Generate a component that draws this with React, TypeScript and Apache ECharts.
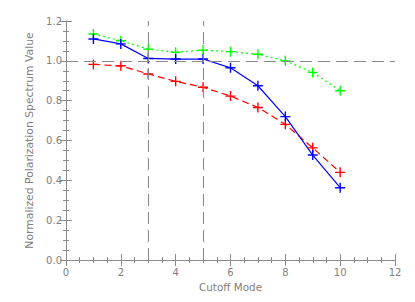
import React, { useEffect, useRef } from "react";
import * as echarts from "echarts";

const modes = [1, 2, 3, 4, 5, 6, 7, 8, 9, 10];
const blueValues = [1.11, 1.085, 1.012, 1.009, 1.009, 0.965, 0.875, 0.72, 0.527, 0.363];
const redValues = [0.982, 0.975, 0.934, 0.897, 0.867, 0.823, 0.766, 0.681, 0.563, 0.44];
const greenValues = [1.135, 1.101, 1.059, 1.043, 1.054, 1.046, 1.033, 1.0, 0.942, 0.85];
const refY = [1.0];
const refX = [3, 5];
const xTitle = "Cutoff Mode";
const yTitle = "Normalized Polarization Spectrum Value";

const PLUS = "path://M-0.7,-5H0.7V-0.7H5V0.7H0.7V5H-0.7V0.7H-5V-0.7H-0.7Z";
const AXIS = "#8a8a8a";
const FONT = "'DejaVu Sans', sans-serif";
const TXT = "#808080";

export default function App() {
  const ref = useRef<HTMLDivElement>(null);
  useEffect(() => {
    if (!ref.current) return;
    const chart = echarts.init(ref.current, undefined, { renderer: "svg" });
    const tickCommon = {
      axisLine: { show: true, lineStyle: { color: AXIS, width: 1 } },
      axisTick: { show: true, inside: true, length: 6, lineStyle: { color: AXIS } },
      minorTick: { show: true, splitNumber: 4, length: 3, lineStyle: { color: AXIS } },
      splitLine: { show: false },
      minorSplitLine: { show: false },
    };
    const mk = (vals: number[], color: string, type: any, name: string) => ({
      type: "line",
      name,
      data: modes.map((m, i) => [m, vals[i]]),
      symbol: PLUS,
      symbolSize: 10,
      showSymbol: true,
      lineStyle: { color, width: 1.2, type },
      itemStyle: { color },
      z: 3,
    });
    chart.setOption({
      animation: false,
      backgroundColor: "#ffffff",
      grid: { left: 66, right: 20, top: 21, bottom: 42, containLabel: false },
      xAxis: [
        {
          type: "value",
          position: "bottom",
          min: 0,
          max: 12,
          interval: 2,
          name: xTitle,
          nameLocation: "middle",
          nameGap: 22,
          nameTextStyle: { color: TXT, fontSize: 10.4, fontFamily: FONT },
          axisLabel: { color: TXT, fontSize: 10, fontFamily: FONT, margin: 7 },
          ...tickCommon,
        },
        {
          type: "value",
          position: "top",
          min: 0,
          max: 12,
          interval: 2,
          axisLabel: { show: false },
          ...tickCommon,
        },
      ],
      yAxis: [
        {
          type: "value",
          position: "left",
          min: 0,
          max: 1.2,
          interval: 0.2,
          name: yTitle,
          nameLocation: "middle",
          nameGap: 28,
          nameTextStyle: { color: TXT, fontSize: 10.8, fontFamily: FONT },
          axisLabel: {
            color: TXT,
            fontSize: 10,
            fontFamily: FONT,
            margin: 4,
            formatter: (v: number) => v.toFixed(1),
          },
          ...tickCommon,
        },
        {
          type: "value",
          position: "right",
          min: 0,
          max: 1.2,
          interval: 0.2,
          axisLabel: { show: false },
          ...tickCommon,
        },
      ],
      series: [
        {
          type: "line",
          data: [],
          z: 1,
          markLine: {
            silent: true,
            symbol: "none",
            label: { show: false },
            lineStyle: { color: "#8a8a8a", width: 1.1, type: [12, 6] },
            data: [
              ...refY.map((y) => ({ yAxis: y })),
              ...refX.map((x) => ({ xAxis: x })),
            ],
          },
        },
        mk(redValues, "#ff0000", [7, 4], "red"),
        mk(greenValues, "#00ff00", [2, 3], "green"),
        mk(blueValues, "#0000ff", "solid", "blue"),
      ],
    });
    return () => chart.dispose();
  }, []);
  return (
    <div
      ref={ref}
      style={{ position: "fixed", left: 0, top: 0, width: 415, height: 302, background: "#fff" }}
    />
  );
}
